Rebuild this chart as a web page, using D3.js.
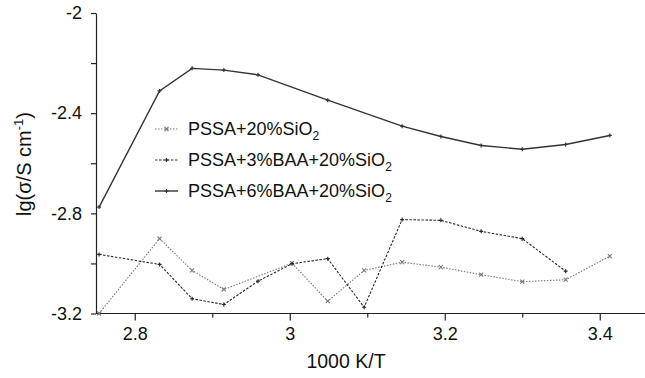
<!DOCTYPE html>
<html>
<head>
<meta charset="utf-8">
<script src="https://cdn.jsdelivr.net/npm/d3@7"></script>
<style>
  body { margin: 0; background: #fff; }
  svg { display: block; font-family: "Liberation Sans", Arial, sans-serif; }
</style>
</head>
<body>
<div id="chart"></div>
<script>
// 1000/T values per series
const xSiO2 = [2.754, 2.832, 2.874, 2.915, 3.003, 3.049, 3.096, 3.145, 3.195, 3.247, 3.300, 3.356, 3.413];
const ySiO2 = [-3.200, -2.901, -3.028, -3.104, -2.999, -3.151, -3.028, -2.995, -3.015, -3.045, -3.073, -3.065, -2.971];

const xBAA3 = [2.754, 2.832, 2.874, 2.915, 2.959, 3.003, 3.049, 3.096, 3.145, 3.195, 3.247, 3.300, 3.356];
const yBAA3 = [-2.964, -3.004, -3.141, -3.164, -3.071, -3.001, -2.981, -3.175, -2.825, -2.828, -2.872, -2.901, -3.031];

const xBAA6 = [2.754, 2.832, 2.874, 2.915, 2.959, 3.049, 3.145, 3.195, 3.247, 3.300, 3.356, 3.413];
const yBAA6 = [-2.775, -2.311, -2.221, -2.228, -2.247, -2.348, -2.452, -2.493, -2.529, -2.544, -2.525, -2.489];

const seriesNames = ['PSSA+20%SiO', 'PSSA+3%BAA+20%SiO', 'PSSA+6%BAA+20%SiO'];
const xTicks = [2.8, 3.0, 3.2, 3.4];
const xMinor = [2.9, 3.1, 3.3];
const yTicks = [-2, -2.4, -2.8, -3.2];
const yMinor = [-2.2, -2.6, -3.0];

const width = 645, height = 378;
const margin = { left: 96, top: 13, right: 0, bottom: 64 };

const svg = d3.select('#chart').append('svg')
  .attr('width', width)
  .attr('height', height);

const x = d3.scaleLinear().domain([2.75, 3.46]).range([margin.left, margin.left + 0.71 * 775]);
const y = d3.scaleLinear().domain([-3.2, -2]).range([313.5, margin.top]);

const fmt = d => String(+d.toFixed(1)).replace('\u2212', '-');

// x axis
const xg = svg.append('g').attr('transform', `translate(0, ${y(-3.2)})`);
xg.call(d3.axisBottom(x).tickValues(xTicks).tickSize(7).tickSizeOuter(0).tickPadding(7).tickFormat(fmt));
xg.append('g').call(d3.axisBottom(x).tickValues(xMinor).tickSize(4).tickFormat(''))
  .call(g => g.select('.domain').remove());
xg.select('.domain').attr('d', `M${margin.left},0H${width}`);

// y axis
const yg = svg.append('g').attr('transform', `translate(${margin.left}, 0)`);
yg.call(d3.axisLeft(y).tickValues(yTicks).tickSize(5).tickSizeOuter(0).tickPadding(9).tickFormat(fmt));
yg.append('g').call(d3.axisLeft(y).tickValues(yMinor).tickSize(5).tickFormat(''))
  .call(g => g.select('.domain').remove());

svg.selectAll('.tick text').attr('font-size', 18).attr('fill', '#111')
  .attr('font-family', '"Liberation Sans", Arial, sans-serif');
svg.selectAll('.domain, .tick line').attr('stroke', '#222').attr('stroke-width', 1.2);

// axis titles
svg.append('text')
  .attr('x', 346).attr('y', 368)
  .attr('text-anchor', 'middle')
  .attr('font-size', 19.5)
  .attr('fill', '#111')
  .text('1000 K/T');

const yt = svg.append('text')
  .attr('transform', 'translate(31, 164) rotate(-90)')
  .attr('text-anchor', 'middle')
  .attr('font-size', 20)
  .attr('fill', '#111');
yt.append('tspan').text('lg(\u03c3/S cm');
yt.append('tspan').attr('font-size', 13).attr('dy', -8).text('-1');
yt.append('tspan').attr('dy', 8).text(')');

// series
const series = [
  { name: seriesNames[0], xs: xSiO2, ys: ySiO2, color: '#777', dash: '1.5,1.5', width: 1.1, mark: 'x' },
  { name: seriesNames[1], xs: xBAA3, ys: yBAA3, color: '#2a2a2a', dash: '2.5,1.5', width: 1.1, mark: 'dot' },
  { name: seriesNames[2], xs: xBAA6, ys: yBAA6, color: '#333', dash: null, width: 1.4, mark: 'dot' }
];

const line = d3.line().x(d => x(d[0])).y(d => y(d[1]));

function drawMarker(g, mark, color) {
  if (mark === 'x') {
    g.append('path').attr('d', 'M-2,-2L2,2M-2,2L2,-2')
      .attr('stroke', color).attr('stroke-width', 1.1).attr('fill', 'none');
  } else {
    g.append('path').attr('d', 'M-2,0H2M0,-2V2')
      .attr('stroke', color).attr('stroke-width', 1.2).attr('fill', 'none');
  }
}

series.forEach(s => {
  const pts = s.xs.map((v, i) => [v, s.ys[i]]);
  svg.append('path')
    .datum(pts)
    .attr('d', line)
    .attr('fill', 'none')
    .attr('stroke', s.color)
    .attr('stroke-width', s.width)
    .attr('stroke-dasharray', s.dash);
  svg.append('g').selectAll('g')
    .data(pts)
    .join('g')
    .attr('transform', d => `translate(${x(d[0])}, ${y(d[1])})`)
    .each(function () { drawMarker(d3.select(this), s.mark, s.color); });
});

// legend
const legend = svg.append('g').selectAll('g')
  .data(series)
  .join('g')
  .attr('transform', (d, i) => `translate(155, ${129 + i * 31})`);

legend.append('line')
  .attr('x1', 0).attr('x2', 23)
  .attr('stroke', d => d.color)
  .attr('stroke-width', d => d.width)
  .attr('stroke-dasharray', d => d.dash);

legend.each(function (d) {
  const g = d3.select(this).append('g').attr('transform', 'translate(11.5, 0)');
  drawMarker(g, d.mark, d.color);
});

const lt = legend.append('text')
  .attr('x', 33).attr('y', 0).attr('dy', '0.36em')
  .attr('font-size', 18)
  .attr('fill', '#111');
lt.append('tspan').text(d => d.name);
lt.append('tspan').attr('font-size', 12).attr('dy', 5).text('2');
</script>
</body>
</html>
